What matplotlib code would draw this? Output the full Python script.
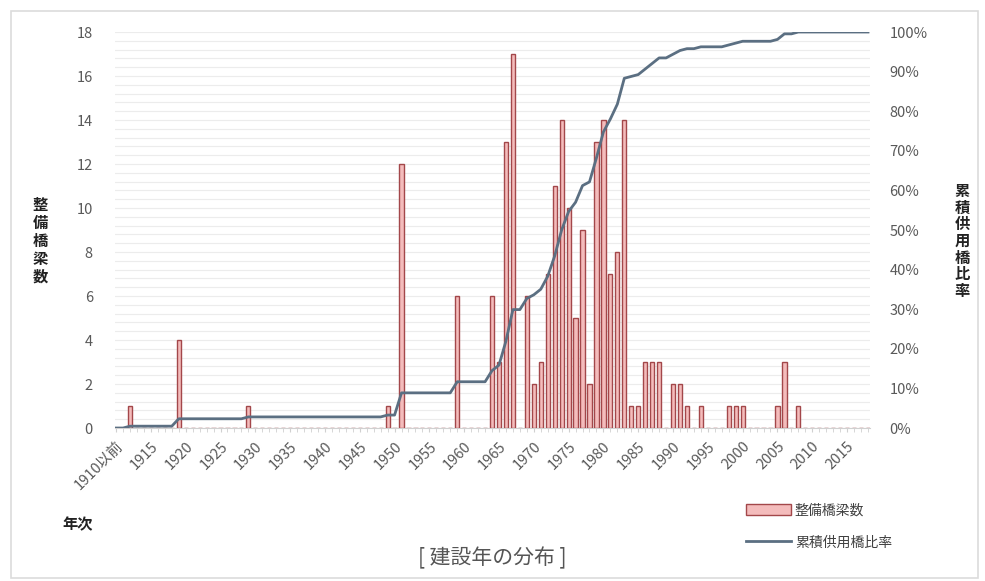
import matplotlib.pyplot as plt
import numpy as np
from matplotlib.patches import Patch, Rectangle
from matplotlib.lines import Line2D

plt.rcParams['font.family'] = ['Noto Sans CJK JP', 'DejaVu Sans']

# 年次カテゴリ: 1910以前, 1911 ... 2018
years = ["1910以前"] + [str(y) for y in range(1911, 2019)]

# 建設年ごとの整備橋梁数 (年: 橋数)
built_years = [1912, 1919, 1929, 1949, 1951, 1959, 1964, 1965, 1966, 1967,
               1969, 1970, 1971, 1972, 1973, 1974, 1975, 1976, 1977, 1978,
               1979, 1980, 1981, 1982, 1983, 1984, 1985, 1986, 1987, 1988,
               1990, 1991, 1992, 1994, 1998, 1999, 2000, 2005, 2006, 2008]
built_counts = [1, 4, 1, 1, 12, 6, 6, 3, 13, 17,
                6, 2, 3, 7, 11, 14, 10, 5, 9, 2,
                13, 14, 7, 8, 14, 1, 1, 3, 3, 3,
                2, 2, 1, 1, 1, 1, 1, 1, 3, 1]

counts = np.zeros(len(years))
for y, c in zip(built_years, built_counts):
    counts[y - 1910] = c
ratio = np.cumsum(counts) / counts.sum() * 100

tick_idx = list(range(0, len(years), 5))
tick_labels = [years[i] for i in tick_idx]

fig = plt.figure(figsize=(9.85, 5.81), dpi=100)
ax = fig.add_axes([0.1168, 0.2633, 0.7665, 0.6816])
ax2 = ax.twinx()

x = np.arange(len(years))
ax.bar(x, counts, width=0.6, color="#f4bcbc", edgecolor="#a3474a", linewidth=1.0, zorder=3)
ax2.plot(x, ratio, color="#5b6f82", linewidth=2.0, zorder=4)

ax.set_xlim(-0.15, 108.3)
ax.set_ylim(0, 18)
ax2.set_ylim(0, 100)
ax.set_yticks(np.arange(0, 19, 2))
ax.set_yticks(np.arange(0, 18.01, 0.4), minor=True)
ax2.set_yticks(np.arange(0, 101, 10))
ax2.set_yticklabels([f"{v}%" for v in range(0, 101, 10)])

ax.grid(True, axis="y", which="both", color="#ececec", linewidth=0.8, zorder=0)
ax.set_axisbelow(True)

ax.set_xticks(tick_idx)
ax.set_xticklabels(tick_labels, rotation=45, ha="right", va="top",
                   rotation_mode="anchor", color="#595959", fontsize=10.5)
ax.set_xticks(x, minor=True)
ax.tick_params(axis="x", which="both", direction="out", length=3, color="#d0d0d0", pad=5)
ax.tick_params(axis="y", which="both", length=0)
ax.tick_params(axis="y", labelcolor="#595959", labelsize=10.5, pad=16)
ax2.tick_params(axis="y", length=0, labelcolor="#595959", labelsize=10.5, pad=14)

for a in (ax, ax2):
    for s in ("top", "left", "right"):
        a.spines[s].set_visible(False)
    a.spines["bottom"].set_color("#d0d0d0")
ax2.spines["bottom"].set_visible(False)

# 軸タイトル (縦書き)
fig.text(0.041, 0.585, "\n".join("整備橋梁数"), ha="center", va="center",
         fontsize=11, fontweight="bold", linespacing=1.15, color="#222222")
fig.text(0.977, 0.585, "\n".join("累積供用橋比率"), ha="center", va="center",
         fontsize=11, fontweight="bold", linespacing=1.05, color="#222222")
fig.text(0.079, 0.097, "年次", ha="center", va="center",
         fontsize=11, fontweight="bold", color="#222222")

fig.text(0.5, 0.04, "[ 建設年の分布 ]", ha="center", va="center",
         fontsize=15, color="#555555")

handles = [Patch(facecolor="#f4bcbc", edgecolor="#a3474a", linewidth=1.0),
           Line2D([0], [0], color="#5b6f82", linewidth=2.0)]
fig.legend(handles, ["整備橋梁数", "累積供用橋比率"], loc="upper left",
           bbox_to_anchor=(0.745, 0.155), frameon=False, fontsize=10,
           handlelength=3.2, handleheight=0.9, labelspacing=1.3,
           handletextpad=0.3, labelcolor="#404040")

fig.patches.append(Rectangle((0.011, 0.006), 0.982, 0.975, transform=fig.transFigure,
                             fill=False, edgecolor="#dcdcdc", linewidth=1.2))

fig.savefig("out.png", dpi=100)
